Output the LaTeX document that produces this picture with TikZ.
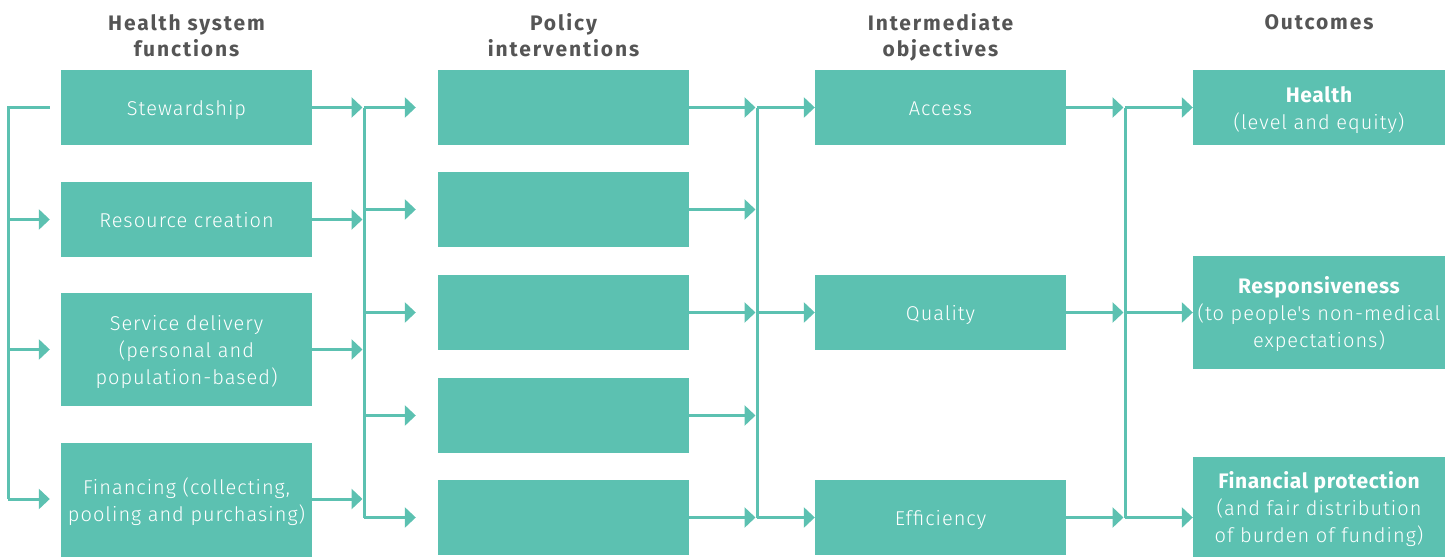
\documentclass[tikz,border=0pt]{standalone}
\usepackage{fontspec}
\setmainfont{Fira Sans Light}[LetterSpace=5,BoldFont=Fira Sans Bold,BoldFeatures={LetterSpace=3}]
\newfontfamily\headfont{Fira Sans}[LetterSpace=9]
\usetikzlibrary{arrows.meta}
\definecolor{teal}{HTML}{5CC1B1}
\definecolor{headgray}{HTML}{555555}
% extra head room on the first line of a multi-line box
\newcommand\firstline{\rule{0pt}{21pt}}
\newcommand\outtitle[1]{{\bfseries\fontsize{21}{27}\selectfont\firstline #1}}
\begin{document}
\begin{tikzpicture}[x=1pt,y=-1pt,
  box/.style={fill=teal,draw=none,text=white,inner sep=0pt,align=center,
    minimum width=251pt,minimum height=75pt,
    font=\fontsize{20}{27}\selectfont},
  single/.style={box,text height=17pt,text depth=2pt},
  head/.style={text=headgray,align=center,inner sep=0pt,
    font=\headfont\bfseries\fontsize{21}{26}\selectfont},
  link/.style={draw=teal,line width=3pt},
  arr/.style={link,-{Triangle[length=11pt,width=20pt]}}]
\useasboundingbox (0,0) rectangle (1456,557);

% column headings
\node[head] (h1) at (186.5,36) {Health system\\functions};
\node[head] (h2) at (563.5,35) {Policy\\interventions};
\node[head] (h3) at (940.5,37) {Intermediate\\objectives};
\node[head] (h4) at (1319,22) {Outcomes};

% health system functions
\node[single] (s1) at (186.5,107.5) {Stewardship};
\node[single] (s2) at (186.5,219.5) {Resource creation};
\node[box,minimum height=113pt] (s3) at (186.5,349.5) {\firstline Service delivery\\(personal and\\population-based)};
\node[box,minimum height=114pt] (s4) at (186.5,500) {\firstline Financing (collecting,\\pooling and purchasing)};

% policy interventions
\node[box] (p1) at (563.5,107.5) {};
\node[box] (p2) at (563.5,209.5) {};
\node[box] (p3) at (563.5,312.5) {};
\node[box] (p4) at (563.5,415.5) {};
\node[box] (p5) at (563.5,517.5) {};

% intermediate objectives
\node[single] (q1) at (940.5,107.5) {Access};
\node[single] (q2) at (940.5,312.5) {Quality};
\node[single] (q3) at (940.5,517.5) {Efficiency};

% outcomes
\node[box,minimum width=252pt] (o1) at (1319,107.5) {\outtitle{Health}\\(level and equity)};
\node[box,minimum width=252pt,minimum height=113pt] (o2) at (1319,312.5) {\outtitle{Responsiveness}\\(to people\textquotesingle s non-medical\\expectations)};
\node[box,minimum width=252pt,minimum height=100pt] (o3) at (1319,507) {\outtitle{Financial protection}\\(and fair distribution\\of burden of funding)};

% bus lines
\coordinate (bL) at (8,499);
\coordinate (b2) at (364,0);
\coordinate (b3) at (757,0);
\coordinate (b4) at (1125,0);

% left feedback bus
\draw[link] ([xshift=-11pt]s1.west) -| (bL);
\draw[arr,shorten >=11pt] (bL |- s2.west) -- (s2.west);
\draw[arr,shorten >=11pt] (bL |- s3.west) -- (s3.west);
\draw[arr,shorten >=11pt] (bL) -- (bL -| s4.west);

% functions -> policy interventions
\draw[link] (b2 |- p1) -- (b2 |- p5);
\foreach \n in {s1,s2,s3}
  \draw[arr,shorten >=1.5pt] (\n.east) -- (\n.east -| b2);
\draw[arr,shorten >=1.5pt] (s4.east |- bL) -- (b2 |- bL);
\foreach \n in {p1,p2,p3,p4,p5}
  \draw[arr,shorten >=22pt] (b2 |- \n.west) -- (\n.west);

% policy interventions -> intermediate objectives
\draw[link] (b3 |- p1) -- (b3 |- p5);
\foreach \n in {p1,p2,p3,p4,p5}
  \draw[arr,shorten >=1.5pt] (\n.east) -- (\n.east -| b3);
\foreach \n in {q1,q2,q3}
  \draw[arr] (b3 |- \n.west) -- (\n.west);

% intermediate objectives -> outcomes
\draw[link] (b4 |- q1) -- (b4 |- q3);
\foreach \n in {q1,q2,q3}
  \draw[arr,shorten >=1.5pt] (\n.east) -- (\n.east -| b4);
\draw[arr] (b4 |- q1) -- (q1 -| o1.west);
\draw[arr] (b4 |- q2) -- (q2 -| o2.west);
\draw[arr] (b4 |- q3) -- (q3 -| o3.west);
\end{tikzpicture}
\end{document}
